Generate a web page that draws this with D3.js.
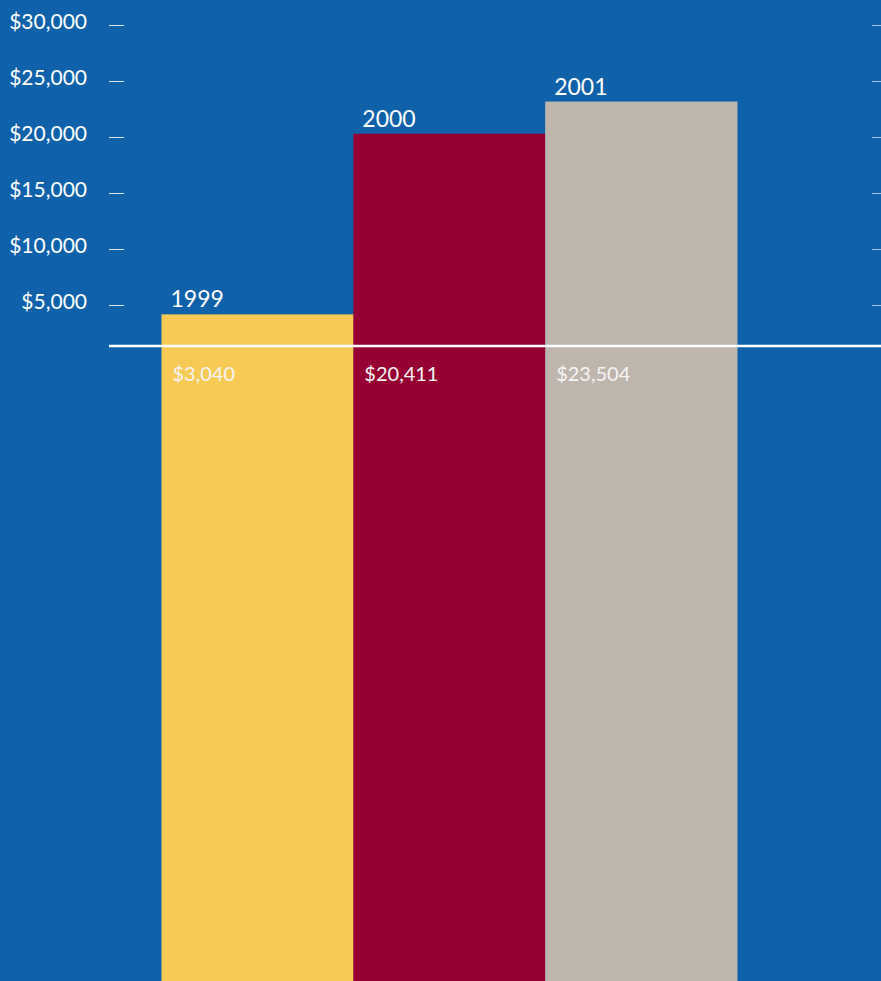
<!DOCTYPE html>
<html><head><meta charset="utf-8">
<script src="https://cdn.jsdelivr.net/npm/d3@7"></script>
<style>html,body{margin:0;padding:0;background:#0f62a9;overflow:hidden}</style>
</head><body><svg id="c" width="881" height="981"></svg>
<script>
const years = ["1999", "2000", "2001"];
const values = [3040, 20411, 23504];
const valueLabels = ["$3,040", "$20,411", "$23,504"];
const barColors = ["#f6ca55", "#970033", "#beb5ad"];
const tickValues = [5000, 10000, 15000, 20000, 25000, 30000];
const tickLabels = ["$5,000", "$10,000", "$15,000", "$20,000", "$25,000", "$30,000"];

const W = 881, H = 981;
const svg = d3.select("#c");
svg.append("rect").attr("width", W).attr("height", H).attr("fill", "#0f62a9");

const x = d3.scaleBand().domain(years).range([161.5, 737]).padding(0);
const yAxisScale = d3.scaleLinear().domain([0, 30000]).range([361, 25]);
const yBar = d3.scaleLinear().domain([0, 30000]).range([346, 34]);

const font = "Lato, 'Open Sans', sans-serif";

// bars
svg.selectAll("rect.bar").data(years).join("rect")
  .attr("class", "bar")
  .attr("x", d => x(d))
  .attr("width", x.bandwidth() + 0.5)
  .attr("y", (d, i) => yBar(values[i]))
  .attr("height", (d, i) => H - yBar(values[i]))
  .attr("fill", (d, i) => barColors[i]);

// left axis
const leftAxis = d3.axisLeft(yAxisScale).tickValues(tickValues)
  .tickFormat((d, i) => tickLabels[i]).tickSize(0).tickPadding(0);
const gL = svg.append("g").attr("transform", "translate(87,-3)").call(leftAxis);
gL.select(".domain").remove();
gL.selectAll("text").attr("fill", "#ffffff").attr("font-family", font)
  .attr("font-size", 21).attr("dy", "0.32em");
svg.append("g").selectAll("line").data(tickValues).join("line")
  .attr("x1", 109).attr("x2", 124)
  .attr("y1", d => Math.round(yAxisScale(d)) + 0.5).attr("y2", d => Math.round(yAxisScale(d)) + 0.5)
  .attr("stroke", "#d8e4f0").attr("stroke-width", 1);

// right ticks
svg.append("g").selectAll("line").data(tickValues).join("line")
  .attr("x1", 872).attr("x2", 881)
  .attr("y1", d => Math.round(yAxisScale(d)) + 0.5).attr("y2", d => Math.round(yAxisScale(d)) + 0.5)
  .attr("stroke", "#a9c6e4").attr("stroke-width", 1);

// baseline
svg.append("line").attr("x1", 109).attr("x2", W).attr("y1", yBar(0)).attr("y2", yBar(0))
  .attr("stroke", "#ffffff").attr("stroke-width", 2.5);

// year labels
svg.selectAll("text.yr").data(years).join("text")
  .attr("class", "yr")
  .attr("x", d => x(d) + 9)
  .attr("y", (d, i) => yBar(values[i]) - 7)
  .attr("fill", "#ffffff").attr("font-family", font).attr("font-size", 23)
  .text(d => d);

// value labels
svg.selectAll("text.val").data(years).join("text")
  .attr("class", "val")
  .attr("x", d => x(d) + 11)
  .attr("y", 381)
  .attr("fill", "#f4f4f4").attr("font-family", font).attr("font-size", 20)
  .text((d, i) => valueLabels[i]);
</script></body></html>
